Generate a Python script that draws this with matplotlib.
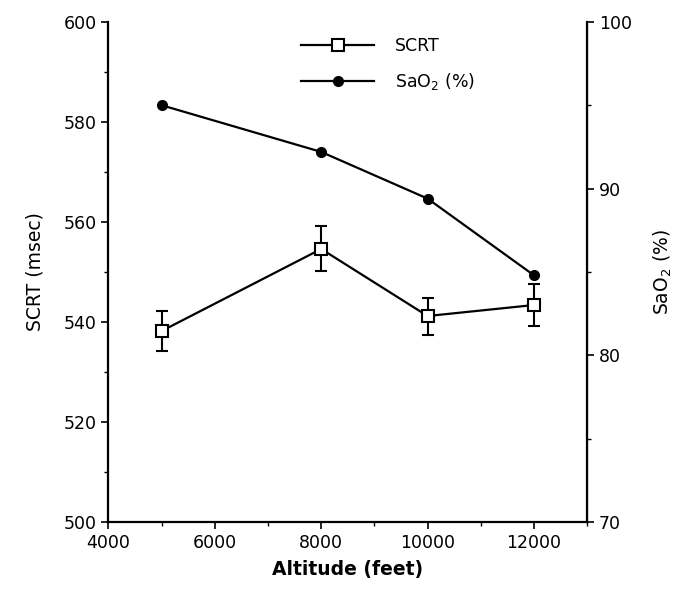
import matplotlib
matplotlib.use("Agg")
import matplotlib.pyplot as plt
from matplotlib.ticker import MultipleLocator
from matplotlib.lines import Line2D

plt.rcParams['font.family'] = ['DejaVu Sans']

altitude = [5000, 8000, 10000, 12000]
scrt = [538.2, 554.6, 541.2, 543.4]
scrt_err = [4.0, 4.5, 3.7, 4.2]
sao2 = [95.0, 92.2, 89.4, 84.8]

fig = plt.figure(figsize=(6.86, 5.90), dpi=100)
ax = fig.add_axes([0.158, 0.115, 0.698, 0.848])
ax2 = ax.twinx()

ax.errorbar(altitude, scrt, yerr=scrt_err, color='black', lw=1.6,
            marker='s', ms=9, mfc='white', mec='black', mew=1.5,
            ecolor='black', elinewidth=1.5, capsize=4, capthick=1.5,
            zorder=3)
ax2.plot(altitude, sao2, color='black', lw=1.6, marker='o', ms=7,
         mfc='black', mec='black')

ax.set_xlim(4000, 13000)
ax.set_ylim(500, 600)
ax2.set_ylim(70, 100)

ax.spines['top'].set_visible(False)
ax2.spines['top'].set_visible(False)
for s in ['left', 'bottom']:
    ax.spines[s].set_linewidth(1.6)
ax2.spines['right'].set_linewidth(1.6)
ax2.spines['left'].set_visible(False)
ax2.spines['bottom'].set_visible(False)

ax.set_xticks([4000, 6000, 8000, 10000, 12000])
ax.xaxis.set_minor_locator(MultipleLocator(1000))
ax.yaxis.set_major_locator(MultipleLocator(20))
ax.yaxis.set_minor_locator(MultipleLocator(10))
ax2.yaxis.set_major_locator(MultipleLocator(10))
ax2.yaxis.set_minor_locator(MultipleLocator(5))

ax.tick_params(which='major', direction='out', length=5, width=1.2, labelsize=12.5)
ax.tick_params(which='minor', direction='out', length=3, width=1.0)
ax2.tick_params(which='major', direction='out', length=5, width=1.2, labelsize=12.5)
ax2.tick_params(which='minor', direction='out', length=3, width=1.0)

ax.set_xlabel('Altitude (feet)', fontsize=13.5, fontweight='bold', labelpad=6)
ax.set_ylabel('SCRT (msec)', fontsize=13.5, labelpad=14)
ax2.set_ylabel('SaO$_2$ (%)', fontsize=13.5, labelpad=14)

h1 = Line2D([], [], color='black', lw=1.6, marker='s', ms=9, mfc='white',
            mec='black', mew=1.5)
h2 = Line2D([], [], color='black', lw=1.6, marker='o', ms=7, mfc='black',
            mec='black')
ax.legend([h1, h2], ['SCRT', 'SaO$_2$ (%)'], loc='upper left',
          bbox_to_anchor=(0.37, 1.0), frameon=False, fontsize=12.5,
          handlelength=4.2, handletextpad=1.2, labelspacing=0.9)

fig.savefig('out.png', dpi=100)
